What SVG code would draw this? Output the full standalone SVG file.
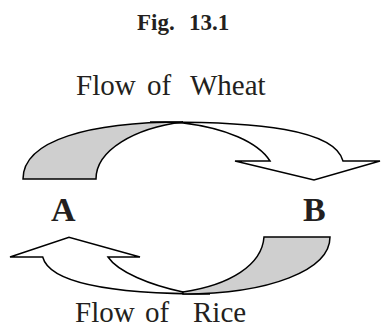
<svg xmlns="http://www.w3.org/2000/svg" width="384" height="333" viewBox="0 0 384 333">
<style>
.t{font-family:"Liberation Serif","Times New Roman",serif;fill:#231f20;}
.b{font-weight:bold;}
.s{stroke:#000;stroke-width:1.5;stroke-linejoin:miter;}
.g{fill:#cfcfcf;}
.w{fill:#fff;}
</style>
<rect width="384" height="333" fill="#fff"/>
<g id="title"><text class="t b" x="137" y="30" font-size="23">Fig.</text><text class="t b" x="189" y="30" font-size="23">13.1</text></g>
<g id="labelWheat"><text class="t" x="76" y="94.5" font-size="29">Flow</text><text class="t" x="147" y="94.5" font-size="29">of</text><text class="t" x="190" y="94.5" font-size="29">Wheat</text></g>
<g id="nodeA"><text class="t b" x="51" y="221" font-size="34">A</text></g>
<g id="nodeB"><text class="t b" x="303" y="221" font-size="34">B</text></g>
<g id="connectors">
<g id="wheatArrow">
<path class="s w" d="M150,122 C260,121 335,130 343,161 L380,161 L314,180 L235,161 L270,161 C258,142 225,128 183,123 Z"/>
<path class="s g" d="M23,179 C23,140 90,122 183,122 C135,128 96,150 96,179 Z"/>
</g>
<g id="riceArrow">
<path class="s w" d="M210,294 C120,294 50,285 42.7,257 L10,257 L69,237.3 L140,257 L108,257 C118,272 150,285 183,292 Z"/>
<path class="s g" d="M183,292 C230,285 262,265 264,237 L330,237 C330,270 270,294 183,294 Z"/>
</g>
</g>
<g id="labelRice"><text class="t" x="75" y="321.7" font-size="29">Flow</text><text class="t" x="145" y="321.7" font-size="29">of</text><text class="t" x="193" y="321.7" font-size="29">Rice</text></g>
</svg>
